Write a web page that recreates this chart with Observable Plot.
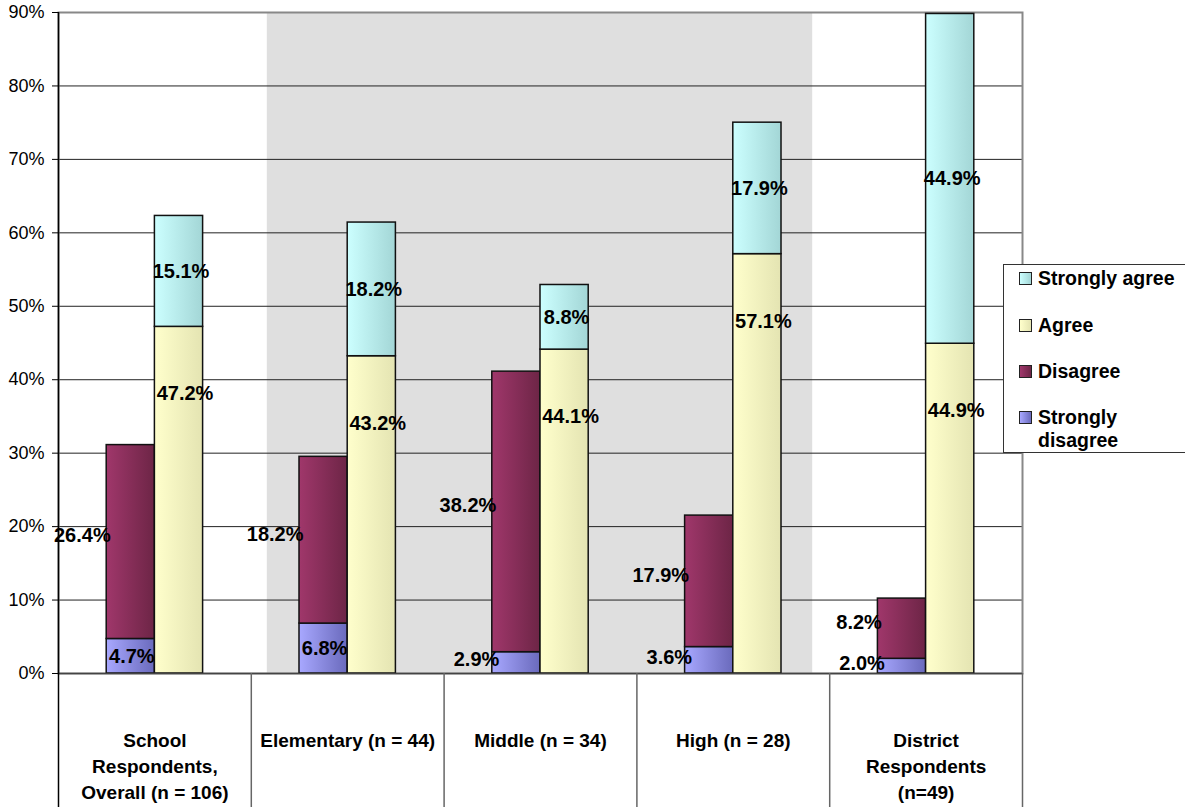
<!DOCTYPE html>
<html><head><meta charset="utf-8">
<script src="https://cdn.jsdelivr.net/npm/d3@7"></script>
<script src="https://cdn.jsdelivr.net/npm/@observablehq/plot@0.6"></script>
<style>
body{margin:0;background:#fff;font-family:"Liberation Sans",Arial,sans-serif;}
#wrap{position:relative;width:1185px;height:807px;overflow:hidden}
#legend{position:absolute;left:1003px;top:264px;width:190px;height:189px;background:#fff;border:1px solid #333;box-sizing:border-box}
.item{position:absolute;left:15px;width:170px;font-weight:bold;font-size:19.5px;line-height:23px;display:flex;align-items:flex-start;color:#000}
.sw{width:11px;height:11px;border:1px solid #222;margin-right:6px;margin-top:5px;flex:none}
.txt{width:147px}
</style></head><body><div id="wrap"></div>
<script>
// ---- data ----
const categories = ["School\nRespondents,\nOverall (n = 106)", "Elementary (n = 44)", "Middle (n = 34)", "High (n = 28)", "District\nRespondents\n(n=49)"];
const stronglyDisagree = [4.7, 6.8, 2.9, 3.6, 2.0];
const disagree = [26.4, 22.7, 38.2, 17.9, 8.2];          // drawn bar heights
const disagreeLabels = ["26.4%", "18.2%", "38.2%", "17.9%", "8.2%"]; // printed labels
const agree = [47.2, 43.2, 44.1, 57.1, 44.9];
const stronglyAgree = [15.1, 18.2, 8.8, 17.9, 44.9];
const seriesNames = ["Strongly agree", "Agree", "Disagree", "Strongly disagree"];
const seriesKeys = ["SA", "A", "D", "SD"];
const yTicks = [0, 10, 20, 30, 40, 50, 60, 70, 80, 90];
const highlighted = [1, 2, 3]; // Elementary, Middle, High

// ---- styles ----
const grads = {
  SD: ["#a8a8ff", "#6a6abc"],
  D:  ["#a0376b", "#6d2546"],
  A:  ["#ffffcc", "#e4e4b2"],
  SA: ["#ccffff", "#a3d6d6"]
};
const barStart = 0.25, barW = 0.25;
const fmt = v => v.toFixed(1) + "%";

const segs = [];
categories.forEach((c, i) => {
  segs.push({i, side: 0, key: "SD", y1: 0, y2: stronglyDisagree[i], v: stronglyDisagree[i], label: fmt(stronglyDisagree[i])});
  segs.push({i, side: 0, key: "D", y1: stronglyDisagree[i], y2: stronglyDisagree[i] + disagree[i], v: disagree[i], label: disagreeLabels[i]});
  segs.push({i, side: 1, key: "A", y1: 0, y2: agree[i], v: agree[i], label: fmt(agree[i])});
  segs.push({i, side: 1, key: "SA", y1: agree[i], y2: agree[i] + stronglyAgree[i], v: stronglyAgree[i], label: fmt(stronglyAgree[i])});
});
const bx1 = d => d.i + barStart + d.side * barW;
const bx2 = d => bx1(d) + barW;
const of = k => segs.filter(d => d.key === k);
const mid = d => (d.y1 + d.y2) / 2;
const lab = {fontSize: 20, fontWeight: "bold", fill: "#000"};
const band = [{from: d3.min(highlighted), to: d3.max(highlighted) + 1}];

const chart = Plot.plot({
  width: 1185, height: 807,
  marginLeft: 58, marginRight: 163, marginTop: 12, marginBottom: 134,
  style: {fontFamily: "'Liberation Sans', Arial, sans-serif", fontSize: "18px", background: "white", color: "#000", overflow: "visible"},
  x: {domain: [0, categories.length], axis: null},
  y: {domain: [0, 90], axis: null},
  marks: [
    Plot.rect(band, {x1: "from", x2: "to", fill: "#dfdfdf", insetLeft: 16, insetRight: 17}),
    Plot.ruleY(yTicks.slice(1, -1), {stroke: "#222", strokeWidth: 1}),
    Plot.frame({stroke: "#888", strokeWidth: 2}),
    ...["SD", "D", "A", "SA"].map(k =>
      Plot.rectY(of(k), {x1: bx1, x2: bx2, y1: "y1", y2: "y2", fill: `url(#g${k})`, stroke: "#111", strokeWidth: 1.5})
    ),
    Plot.ruleY([0], {stroke: "#444", strokeWidth: 1.5}),
    Plot.axisX({ticks: d3.range(1, categories.length + 1), tickSize: 134, tickFormat: () => "", stroke: "#666", strokeWidth: 1.5}),
    Plot.axisX({ticks: [0], tickSize: 134, tickFormat: () => "", stroke: "#000", strokeWidth: 1.5}),
    Plot.ruleX([0], {stroke: "#000", strokeWidth: 1.5}),
    Plot.axisY({ticks: yTicks, tickFormat: d => d + "%", tickSize: 6, tickPadding: 8, fontSize: 18, stroke: "#000"}),
    Plot.text(categories, {x: (d, i) => i + 0.5, frameAnchor: "bottom", text: d => d, lineAnchor: "top", dy: 55, lineHeight: 1.36, fontSize: 19, fontWeight: "bold", fill: "#000"}),
    // labels
    Plot.text(of("SA"), {x: d => d.i + 0.625, y: mid, text: "label", dx: 2, ...lab}),
    Plot.text(of("A"), {x: d => d.i + 0.625, y: "y2", text: "label", dx: 6, dy: 67, ...lab}),
    Plot.text(of("D"), {x: d => d.i + barStart, y: mid, text: "label", textAnchor: "end", dx: 4, dy: -6, ...lab}),
    Plot.text(of("SD").filter(d => d.v >= 4), {x: d => d.i + barStart + barW / 2, y: mid, text: "label", dx: 1, ...lab}),
    Plot.text(of("SD").filter(d => d.v < 4), {x: d => d.i + barStart, y: mid, text: "label", textAnchor: "end", dx: 7, dy: -3, ...lab})
  ]
});

const defs = d3.select(chart).insert("defs", ":first-child");
Object.entries(grads).forEach(([k, [c0, c1]]) => {
  const g = defs.append("linearGradient").attr("id", "g" + k).attr("x1", 0).attr("x2", 1).attr("y1", 0).attr("y2", 0);
  g.append("stop").attr("offset", "0%").attr("stop-color", c0);
  g.append("stop").attr("offset", "100%").attr("stop-color", c1);
});

const wrap = document.getElementById("wrap");
wrap.appendChild(chart);

const legend = document.createElement("div");
legend.id = "legend";
const rowTops = [2, 49, 95, 141];
seriesNames.forEach((name, j) => {
  const [c0, c1] = grads[seriesKeys[j]];
  const it = document.createElement("div");
  it.className = "item";
  it.style.top = rowTops[j] + "px";
  it.innerHTML = `<div class="sw" style="background:linear-gradient(to right, ${c0}, ${c1})"></div><div class="txt">${name}</div>`;
  legend.appendChild(it);
});
wrap.appendChild(legend);
</script>
</body></html>
